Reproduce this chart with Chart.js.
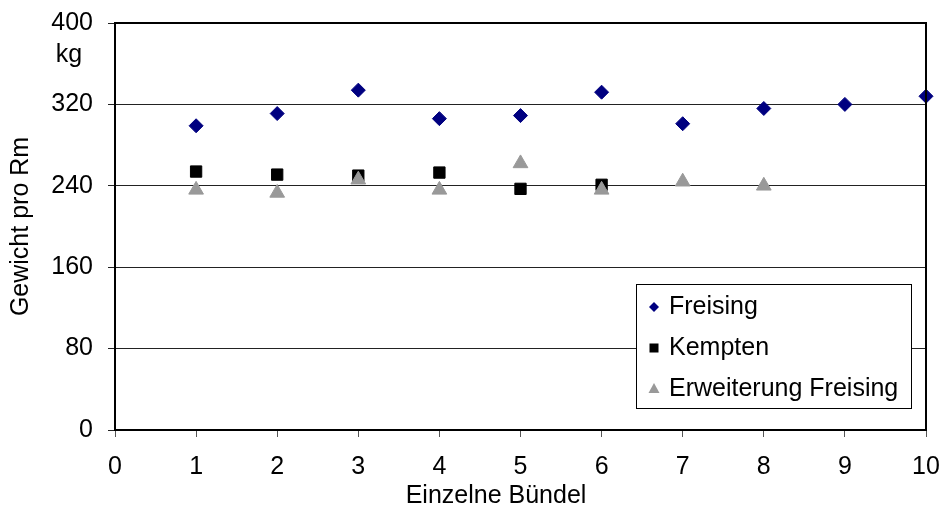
<!DOCTYPE html>
<html>
<head>
<meta charset="utf-8">
<script src="https://cdn.jsdelivr.net/npm/chart.js"></script>
<style>
  html, body { margin: 0; padding: 0; background: #fff; }
  #wrap { width: 942px; height: 508px; position: relative; }
</style>
</head>
<body>
<div id="wrap"><canvas id="chart"></canvas></div>
<script>
const FONT = '"Liberation Sans", Arial, sans-serif';
const FONT_SIZE = 25;

const xTicks = [0, 1, 2, 3, 4, 5, 6, 7, 8, 9, 10];
const yTicks = [0, 80, 160, 240, 320, 400];

const seriesNames = ['Freising', 'Kempten', 'Erweiterung Freising'];

const freisingX = [1, 2, 3, 4, 5, 6, 7, 8, 9, 10];
const freisingY = [299, 311, 334, 306, 309, 332, 301, 316, 320, 328];

const kemptenX = [1, 2, 3, 4, 5, 6];
const kemptenY = [254, 251, 250, 253, 237, 241];

const erweiterungX = [1, 2, 3, 4, 5, 6, 7, 8];
const erweiterungY = [236, 233, 246, 236, 262, 236, 244, 240];

const toPoints = (xs, ys) => xs.map((x, i) => ({ x, y: ys[i] }));

// plot frame, unit label, x title and legend box
const extras = {
  id: 'extras',
  afterDraw(chart) {
    const { ctx, chartArea: a } = chart;
    ctx.save();
    ctx.strokeStyle = '#000';
    ctx.lineWidth = 2;
    ctx.beginPath();
    ctx.moveTo(a.left, a.top);
    ctx.lineTo(a.right, a.top);
    ctx.lineTo(a.right, a.bottom);
    ctx.stroke();

    ctx.fillStyle = '#000';
    ctx.font = FONT_SIZE + 'px ' + FONT;
    ctx.textAlign = 'center';
    ctx.textBaseline = 'alphabetic';
    ctx.fillText('kg', 69, 62);

    ctx.textBaseline = 'middle';
    ctx.fillText('Einzelne Bündel', 496, 496);

    // legend
    const box = { x: 636, y: 284, w: 275, h: 124 };
    ctx.fillStyle = '#fff';
    ctx.fillRect(box.x, box.y, box.w, box.h);
    ctx.lineWidth = 1;
    ctx.strokeStyle = '#000';
    ctx.strokeRect(box.x + 0.5, box.y + 0.5, box.w, box.h);

    const rows = [307, 348, 389];
    const mx = 654;
    ctx.fillStyle = '#000080';
    ctx.beginPath();
    ctx.moveTo(mx, rows[0] - 5);
    ctx.lineTo(mx + 5, rows[0]);
    ctx.lineTo(mx, rows[0] + 5);
    ctx.lineTo(mx - 5, rows[0]);
    ctx.closePath();
    ctx.fill();

    ctx.fillStyle = '#000';
    ctx.fillRect(mx - 4.5, rows[1] - 4.5, 9, 9);

    ctx.fillStyle = '#999999';
    ctx.beginPath();
    ctx.moveTo(mx, rows[2] - 6);
    ctx.lineTo(mx + 5.5, rows[2] + 4);
    ctx.lineTo(mx - 5.5, rows[2] + 4);
    ctx.closePath();
    ctx.fill();

    ctx.fillStyle = '#000';
    ctx.textAlign = 'left';
    ctx.textBaseline = 'middle';
    seriesNames.forEach((name, i) => ctx.fillText(name, 669, rows[i]));
    ctx.restore();
  }
};

new Chart(document.getElementById('chart'), {
  type: 'scatter',
  data: {
    datasets: [
      {
        label: seriesNames[0],
        data: toPoints(freisingX, freisingY),
        pointStyle: 'rectRot',
        pointRadius: 7,
        backgroundColor: '#000080',
        borderColor: '#000080',
        borderWidth: 1,
        clip: false,
        order: 2,
      },
      {
        label: seriesNames[1],
        data: toPoints(kemptenX, kemptenY),
        pointStyle: 'rect',
        pointRadius: 8,
        backgroundColor: '#000',
        borderColor: '#000',
        borderWidth: 1,
        clip: false,
        order: 1,
      },
      {
        label: seriesNames[2],
        data: toPoints(erweiterungX, erweiterungY),
        pointStyle: 'triangle',
        pointRadius: 8.5,
        backgroundColor: '#999999',
        borderColor: '#999999',
        borderWidth: 1,
        clip: false,
        order: 0,
      },
    ],
  },
  options: {
    responsive: true,
    maintainAspectRatio: false,
    animation: false,
    layout: {
      padding: { top: 23, right: 16, bottom: 0, left: 0 },
    },
    plugins: {
      legend: { display: false },
      tooltip: { enabled: false },
    },
    scales: {
      x: {
        type: 'linear',
        min: xTicks[0],
        max: xTicks[xTicks.length - 1],
        afterBuildTicks(scale) {
          scale.ticks = xTicks.map((v) => ({ value: v }));
        },
        afterFit(scale) {
          scale.height = 78;
          scale.paddingLeft = 0;
          scale.paddingRight = 0;
        },
        ticks: {
          color: '#000',
          padding: 15,
          maxRotation: 0,
          font: { family: FONT, size: FONT_SIZE },
        },
        grid: {
          drawOnChartArea: false,
          drawTicks: true,
          tickLength: 7,
          color: '#555',
          lineWidth: 1,
        },
        border: { color: '#000', width: 2 },
      },
      y: {
        min: yTicks[0],
        max: yTicks[yTicks.length - 1],
        afterBuildTicks(scale) {
          scale.ticks = yTicks.map((v) => ({ value: v }));
        },
        afterFit(scale) {
          scale.width = 115;
          scale.paddingTop = 0;
          scale.paddingBottom = 0;
        },
        ticks: {
          color: '#000',
          padding: 15,
          font: { family: FONT, size: FONT_SIZE },
        },
        grid: {
          color: '#222',
          lineWidth: 1,
          tickLength: 7,
        },
        border: { color: '#000', width: 2 },
        title: {
          display: true,
          text: 'Gewicht pro Rm',
          color: '#000',
          padding: { top: 6, bottom: 0 },
          font: { family: FONT, size: FONT_SIZE },
        },
      },
    },
  },
  plugins: [extras],
});
</script>
</body>
</html>
